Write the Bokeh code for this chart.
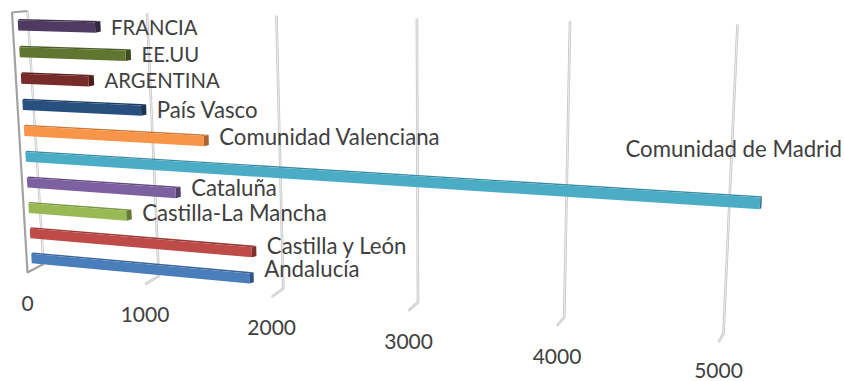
import numpy as np
from bokeh.core.properties import value
from bokeh.embed import file_html
from bokeh.models import ColumnDataSource, Range1d
from bokeh.plotting import figure
from bokeh.resources import INLINE

# Bottom-to-top category order of the horizontal 3D bars
categories = ["Andalucía", "Castilla y León", "Castilla-La Mancha", "Cataluña",
              "Comunidad de Madrid", "Comunidad Valenciana", "País Vasco",
              "ARGENTINA", "EE.UU", "FRANCIA"]
values = [1780, 1805, 820, 1225, 5200, 1460, 975, 560, 870, 635]
front_colors = ["#4a7ebb", "#be4b48", "#98b954", "#7d60a0", "#4bacc6",
                "#f99548", "#27507e", "#772c2a", "#5f7530", "#4f3b62"]
top_colors = ["#3b659a", "#9a3d3a", "#7b9644", "#654d82", "#3b8ba1",
              "#c97839", "#1f4066", "#5f2321", "#4c5e26", "#3f2f4f"]
side_colors = ["#2f5486", "#7f2f2d", "#637a37", "#51406a", "#307286",
               "#a96430", "#193553", "#4d1c1b", "#3e4c1f", "#322640"]
axis_ticks = [0, 1000, 2000, 3000, 4000, 5000]
V_MAX = 5000


def homography(corners):
    """Projective map from the unit square (u, t) onto four screen corners."""
    rows, rhs = [], []
    for (u, t), (x, y) in corners:
        rows.append([u, t, 1, 0, 0, 0, -u * x, -t * x]); rhs.append(x)
        rows.append([0, 0, 0, u, t, 1, -u * y, -t * y]); rhs.append(y)
    m = np.append(np.linalg.solve(np.array(rows, float), np.array(rhs, float)), 1.0).reshape(3, 3)

    def project(u, t):
        px, py, w = m @ np.array([u, t, 1.0])
        return px / w, py / w
    return project


# Two planes of the perspective view: bar fronts and back wall
bar_plane = homography([((0, 0), (31, 258)), ((1, 0), (720, 321.5)),
                        ((0, 1), (17.5, 25)), ((1, 1), (733, 43.5))])
wall_plane = homography([((0, 0), (43, 263.5)), ((1, 0), (723, 333)),
                         ((0, 1), (27, 10.5)), ((1, 1), (737, 24))])


def floor_front(v):
    # Front edge of the floor, offset from the foot of the back wall
    x, y = wall_plane(v / V_MAX, 0)
    return x - 16 + 11 * v / V_MAX, y + 8.5


def bar_corner(v, c, half):
    return bar_plane(v / V_MAX, (c + half) / 9)


def depth_dx(v):
    return 6.0 - 4.2 * v / V_MAX


p = figure(width=844, height=381, output_backend="svg", toolbar_location=None,
           x_range=Range1d(0, 844), y_range=Range1d(381, 0), min_border=0,
           x_axis_type=None, y_axis_type=None, background_fill_color="white",
           border_fill_color="white", outline_line_color=None)
p.grid.visible = False

# Value gridlines: up the back wall, then forward across the floor
grid_xs, grid_ys = [], []
for tick in axis_ticks[1:]:
    u = tick / V_MAX
    pts = [wall_plane(u, 1), wall_plane(u, 0), floor_front(tick)]
    grid_xs.append([q[0] for q in pts])
    grid_ys.append([q[1] for q in pts])
p.multi_line(grid_xs, grid_ys, line_color="#c6c6c6", line_width=2.6)
p.multi_line(grid_xs, grid_ys, line_color="#ededed", line_width=1.0)

# Zero plane frame at the left side of the plot
wall_top, wall_bot, front0 = wall_plane(0, 1), wall_plane(0, 0), floor_front(0)
p.line([wall_top[0], wall_bot[0]], [wall_top[1], wall_bot[1]], line_color="#c6c6c6", line_width=2.4)
p.line([wall_top[0], wall_bot[0]], [wall_top[1], wall_bot[1]], line_color="#efefef", line_width=1.0)
frame_x = [wall_bot[0], front0[0], 11.5, wall_top[0]]
frame_y = [wall_bot[1], front0[1], 12, wall_top[1]]
p.line(frame_x, frame_y, line_color="#a2a2a2", line_width=2.2)

# Bars as three visible faces: front, top and right end
xs, ys, fills = [], [], []
for c, (val, front, top, side) in enumerate(zip(values, front_colors, top_colors, side_colors)):
    half = 0.19
    fl_b, fl_t = bar_corner(0, c, -half), bar_corner(0, c, half)
    fr_b, fr_t = bar_corner(val, c, -half), bar_corner(val, c, half)
    d1, rise = depth_dx(val), 1.3
    faces = [
        ([fl_t[0], fr_t[0], fr_t[0] + d1, fl_t[0] + 1.5],
         [fl_t[1], fr_t[1], fr_t[1] - rise, fl_t[1] - rise], top),
        ([fr_t[0], fr_b[0], fr_b[0] + d1, fr_t[0] + d1],
         [fr_t[1], fr_b[1], fr_b[1] - rise, fr_t[1] - rise], side),
        ([fl_b[0], fr_b[0], fr_t[0], fl_t[0]],
         [fl_b[1], fr_b[1], fr_t[1], fl_t[1]], front),
    ]
    for fx, fy, col in faces:
        xs.append(fx); ys.append(fy); fills.append(col)
p.patches(xs, ys, fill_color=fills, line_color=None)

# Category labels sit just past each bar end; the longest bar's label is pulled back into the plot
label_rise = [10, 7, 3.5, 5.5, 0, 4.5, 1.5, 1.5, 1.5, 0.5]
lab_x, lab_y, lab_size = [], [], []
for c, (name, val) in enumerate(zip(categories, values)):
    end = bar_corner(val, c, 0)
    lab_size.append("20.3px" if name.upper() == name else "22.2px")
    if val > V_MAX:
        lab_x.append(625); lab_y.append(148)
    else:
        lab_x.append(end[0] + depth_dx(val) + 10.5)
        lab_y.append(end[1] - label_rise[c])
labels = ColumnDataSource(dict(x=lab_x, y=lab_y, text=categories, size=lab_size))
p.text("x", "y", text="text", source=labels, text_font=value("Lato"), text_font_size="size",
       text_color="#404040", text_align="left", text_baseline="middle")

# Value axis labels below the floor, kept inside the bottom edge of the page
tick_pts = [floor_front(t) for t in axis_ticks]
p.text([q[0] for q in tick_pts], [min(q[1] + 30.5, 369.5) for q in tick_pts],
       text=[str(t) for t in axis_ticks], text_font=value("Lato"), text_font_size="21px",
       text_color="#404040", text_align="center", text_baseline="middle")

open("out.html", "w").write(file_html(p, INLINE))
